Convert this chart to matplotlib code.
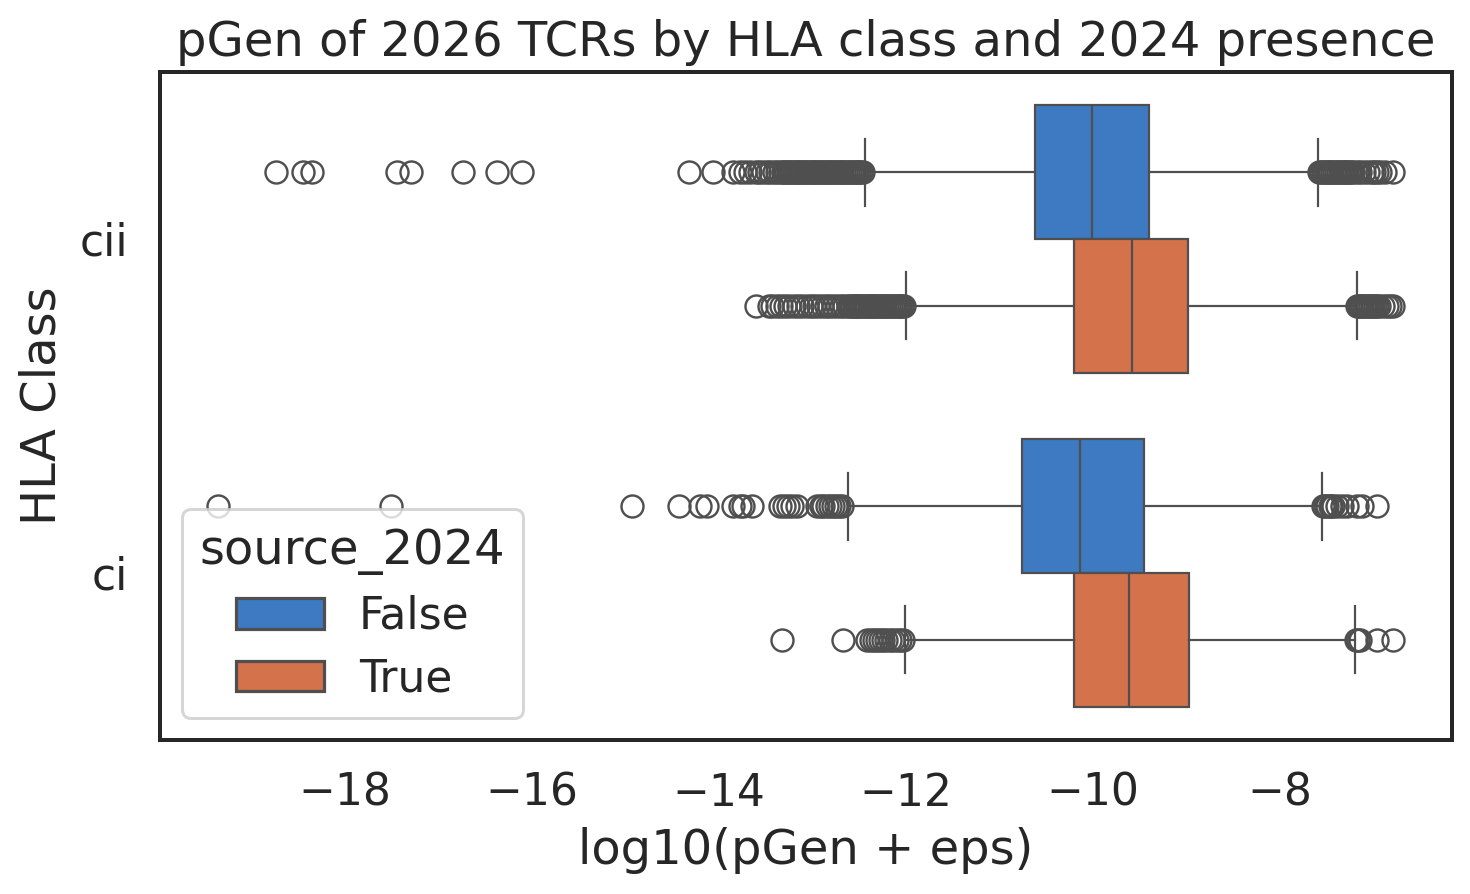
import matplotlib
matplotlib.use("Agg")
import matplotlib.pyplot as plt
from matplotlib.patches import Patch

# figure settings
dpi        = 144
figsize    = (1470 / dpi, 894 / dpi)
text_color = "#262626"
line_color = "#4f4f4f"
hue_colors = ["#3d7ac1", "#d4724b"]

# data (log10 pGen)
classes    = ["cii", "ci"]
hue_levels = ["False", "True"]

q1     = [[-10.62, -10.20], [-10.76, -10.20]]
median = [[-10.01, -9.58], [-10.14, -9.61]]
q3     = [[-9.40, -8.98], [-9.45, -8.97]]
whislo = [[-12.44, -12.00], [-12.62, -12.01]]
whishi = [[-7.59, -7.18], [-7.55, -7.20]]

cii_false_fliers = [-18.74, -18.45, -18.35, -17.44, -17.30, -16.74, -16.37, -16.11,
                    -14.32, -14.07, -13.85, -13.78, -13.72, -13.67, -13.61, -13.57,
                    -13.53, -13.49, -13.45, -13.41, -13.38, -13.35, -13.32,
                    -13.30, -13.28, -13.26, -13.24, -13.22, -13.20, -13.18, -13.16,
                    -13.14, -13.12, -13.10, -13.08, -13.06, -13.04, -13.02, -13.00,
                    -12.98, -12.96, -12.94, -12.92, -12.90, -12.88, -12.86, -12.84,
                    -12.82, -12.80, -12.78, -12.76, -12.74, -12.72, -12.70, -12.68,
                    -12.66, -12.64, -12.62, -12.60, -12.58, -12.56, -12.54, -12.52,
                    -12.50, -12.48, -12.46,
                    -7.58, -7.56, -7.54, -7.52, -7.50, -7.48, -7.46, -7.44, -7.42,
                    -7.40, -7.38, -7.36, -7.34, -7.32, -7.30, -7.28, -7.26, -7.24,
                    -7.22, -7.18, -7.14, -7.10, -7.06, -7.02, -6.99, -6.96, -6.93,
                    -6.88, -6.79]
cii_true_fliers  = [-13.60, -13.47, -13.43, -13.38, -13.34, -13.29, -13.25, -13.20,
                    -13.16, -13.11, -13.06, -13.02, -12.98, -12.94, -12.90, -12.86,
                    -12.82, -12.78, -12.74, -12.70, -12.66,
                    -12.62, -12.60, -12.58, -12.56, -12.54, -12.52, -12.50, -12.48,
                    -12.46, -12.44, -12.42, -12.40, -12.38, -12.36, -12.34, -12.32,
                    -12.30, -12.28, -12.26, -12.24, -12.22, -12.20, -12.18, -12.16,
                    -12.14, -12.12, -12.10, -12.08, -12.06, -12.04, -12.02,
                    -7.18, -7.16, -7.14, -7.12, -7.10, -7.08, -7.06, -7.04, -7.02,
                    -7.00, -6.98, -6.96, -6.94, -6.90, -6.86, -6.82, -6.79]
ci_false_fliers  = [-19.36, -17.51, -14.93, -14.43, -14.20, -14.13, -13.85, -13.78,
                    -13.74, -13.65, -13.35, -13.30, -13.26, -13.22, -13.17, -12.95,
                    -12.91, -12.89, -12.85, -12.81, -12.78, -12.75, -12.72, -12.68,
                    -7.54, -7.52, -7.50, -7.47, -7.45, -7.43, -7.39, -7.34, -7.28,
                    -7.18, -7.12, -6.96]
ci_true_fliers   = [-13.33, -12.67, -12.42, -12.38, -12.34, -12.31, -12.28, -12.25,
                    -12.21, -12.17, -12.14, -12.10, -12.06, -12.03,
                    -7.19, -7.17, -7.14, -6.96, -6.79]
fliers = [[cii_false_fliers, cii_true_fliers], [ci_false_fliers, ci_true_fliers]]

plt.rcParams["font.family"] = ["DejaVu Sans"]
plt.rcParams["text.color"] = text_color
plt.rcParams["axes.labelcolor"] = text_color
plt.rcParams["xtick.color"] = text_color
plt.rcParams["ytick.color"] = text_color

fig = plt.figure(figsize=figsize, dpi=dpi)
ax = fig.add_axes([160 / 1470, 1 - 740 / 894, (1452 - 160) / 1470, (740 - 72) / 894])

width = 0.4
for i, cls in enumerate(classes):
  for j, hue in enumerate(hue_levels):
    stats = [dict(med=median[i][j], q1=q1[i][j], q3=q3[i][j],
                  whislo=whislo[i][j], whishi=whishi[i][j], fliers=fliers[i][j])]
    pos = i + (j - 0.5) * width
    ax.bxp(stats, positions=[pos], widths=width, vert=False, patch_artist=True,
           boxprops=dict(facecolor=hue_colors[j], edgecolor=line_color, linewidth=1.1),
           medianprops=dict(color=line_color, linewidth=1.1),
           whiskerprops=dict(color=line_color, linewidth=1.1),
           capprops=dict(color=line_color, linewidth=1.1),
           flierprops=dict(marker="o", markerfacecolor="none", markeredgecolor=line_color,
                           markersize=11, markeredgewidth=1.2, linestyle="none"),
           manage_ticks=False)

ax.set_xlim(-19.98, -6.16)
ax.set_ylim(1.5, -0.5)
ax.set_yticks(range(len(classes)))
ax.set_yticklabels(classes)
ax.set_xticks([-18, -16, -14, -12, -10, -8])
ax.tick_params(axis="both", labelsize=22, length=0, pad=16)
for s in ax.spines.values():
  s.set_linewidth(2.0)
  s.set_color(text_color)

ax.set_xlabel("log10(pGen + eps)", fontsize=24, labelpad=6)
ax.set_ylabel("HLA Class", fontsize=24, labelpad=7)
ax.set_title("pGen of 2026 TCRs by HLA class and 2024 presence", fontsize=24, pad=8)

handles = [Patch(facecolor=c, edgecolor=line_color, linewidth=1.6) for c in hue_colors]
leg = ax.legend(handles, hue_levels, title="source_2024", loc="lower left",
                fontsize=22, title_fontsize=24, framealpha=0.8, edgecolor="#cccccc",
                fancybox=True, labelspacing=0.45)
leg.get_frame().set_linewidth(1.5)

fig.savefig("out.png", dpi=dpi)
